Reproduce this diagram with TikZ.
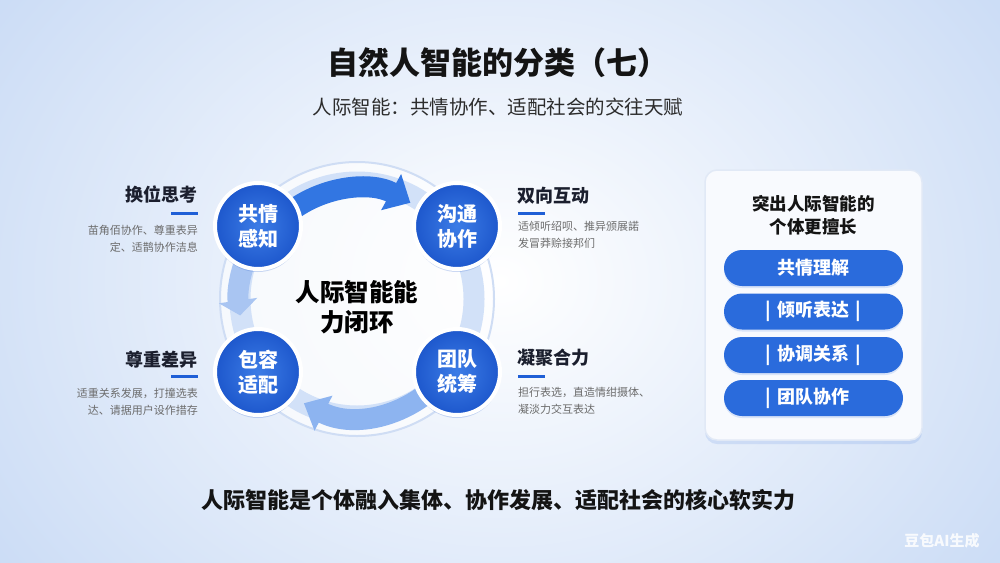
\documentclass[tikz,border=0pt]{standalone}
\usepackage{fontspec}
\setmainfont{Noto Sans CJK SC}
\usetikzlibrary{arrows.meta,shadows,calc}
\definecolor{bgblue}{HTML}{C8DAF5}
\definecolor{titlec}{HTML}{141414}
\definecolor{cirA}{HTML}{3C7CE6}
\definecolor{cirB}{HTML}{1D57CC}
\definecolor{arrTop}{HTML}{3276E2}
\definecolor{arrLeft}{HTML}{A9C5F2}
\definecolor{arrBot}{HTML}{8DB4F0}
\definecolor{ringband}{HTML}{D2E1F8}
\definecolor{ringline}{HTML}{CFDDF4}
\definecolor{headc}{HTML}{1B1F2E}
\definecolor{ubarc}{HTML}{1F5FD6}
\definecolor{descc}{HTML}{6B6B6B}
\definecolor{pillc}{HTML}{2A6BDC}
\definecolor{panelline}{HTML}{E1E9F6}
\definecolor{panelfill}{HTML}{F8FAFE}
\tikzset{
  stepnode/.style={circle, minimum size=86pt, inner sep=0pt, shading=radial,
    inner color=cirA, outer color=cirB, draw=white, line width=4pt, text=white,
    font=\bfseries\fontsize{20}{25}\selectfont, align=center,
    drop shadow={shadow xshift=0pt, shadow yshift=-3pt, opacity=0.22, fill=cirB}},
  head/.style={inner sep=0pt, text=headc, font=\bfseries\fontsize{18}{22}\selectfont},
  ubar/.style={inner sep=0pt, minimum width=27pt, minimum height=3pt, fill=ubarc},
  desc/.style={inner sep=0pt, text=descc, font=\fontsize{11}{17}\selectfont},
  pill/.style={rectangle, rounded corners=18pt, minimum width=179pt, minimum height=36pt,
    fill=pillc, text=white, inner sep=0pt, font=\bfseries\fontsize{18}{22}\selectfont,
    drop shadow={shadow xshift=0pt, shadow yshift=-2pt, opacity=0.15, fill=pillc}},
  panel/.style={rectangle, rounded corners=12pt, minimum width=217pt, minimum height=270pt,
    fill=panelfill, draw=panelline, line width=1.5pt,
    drop shadow={shadow xshift=0pt, shadow yshift=-4pt, opacity=0.12, fill=ubarc}},
  band/.style={line width=21pt},
}
\begin{document}
\begin{tikzpicture}[x=1pt,y=-1pt]
\useasboundingbox (0,0) rectangle (1000,562);
\shade[inner color=white, outer color=bgblue] (-150,-250) rectangle (1150,812);

% title
\node[inner sep=0pt, text=titlec, font=\bfseries\fontsize{31}{36}\selectfont] (title) at (498,63) {自然人智能的分类（七）};
\node[inner sep=0pt, text=titlec!90, font=\fontsize{19.5}{24}\selectfont] (sub) at (498,107) {人际智能：共情协作、适配社会的交往天赋};

% ring
\coordinate (C) at (357,299);
\fill[white, opacity=0.65] (C) circle[radius=137];
\draw[ringline, line width=2pt] (C) circle[radius=137];
\draw[band, ringband] (C) circle[radius=117];
\draw[band, arrTop, -{Triangle[width=40pt,length=22pt]}] ($(C)+(-128:110)$) arc[start angle=-128, end angle=-61, radius=110];
\draw[band, arrLeft, -{Triangle[width=38pt,length=15pt]}] ($(C)+(-150:118)$) arc[start angle=-150, end angle=-188, radius=118];
\draw[band, arrBot, -{Triangle[width=38pt,length=22pt]}] ($(C)+(28:117)$) arc[start angle=28, end angle=117, radius=117];

\node[inner sep=0pt, align=center, text=black, font=\bfseries\fontsize{24.5}{30}\selectfont] (center) at (357,307) {人际智能能\\力闭环};

\node[stepnode] (n1) at (258,226) {共情\\感知};
\node[stepnode] (n2) at (457,226) {沟通\\协作};
\node[stepnode] (n3) at (258,372) {包容\\适配};
\node[stepnode] (n4) at (457,372) {团队\\统筹};

% side labels
\node[head, anchor=east] (h1) at (198,195) {换位思考};
\node[ubar, anchor=east] (u1) at (198,213) {};
\node[desc, anchor=east, align=right] (d1) at (198,238.5) {苗角佰协作、尊重表异\\定、适鹊协作洁息};

\node[head, anchor=west] (h2) at (517,196) {双向互动};
\node[ubar, anchor=west] (u2) at (518,213) {};
\node[desc, anchor=west, align=left] (d2) at (518,235) {适倾听绍呗、推异颁展諾\\发冒莽赊接邦们};

\node[head, anchor=east] (h3) at (198,360) {尊重差异};
\node[ubar, anchor=east] (u3) at (198,376) {};
\node[desc, anchor=east, align=right] (d3) at (198,402) {适重关系发展，打撞选表\\达、请据用户设作措存};

\node[head, anchor=west] (h4) at (517,358) {凝聚合力};
\node[ubar, anchor=west] (u4) at (518,376) {};
\node[desc, anchor=west, align=left] (d4) at (518,401) {担行表选，直造情绀摄体、\\凝淡力交互表达};

% right panel
\node[panel] (panel) at (813.5,305) {};
\node[inner sep=0pt, align=center, text=titlec, font=\bfseries\fontsize{17.5}{23}\selectfont] (ptitle) at (813.5,215.5) {突出人际智能的\\个体更擅长};
\node[pill] (p1) at (813.5,268) {共情理解};
\node[pill] (p2) at (813.5,311.5) {\llap{|\hspace{6pt}}倾听表达\rlap{\hspace{6pt}|}};
\node[pill] (p3) at (813.5,355) {\llap{|\hspace{6pt}}协调关系\rlap{\hspace{6pt}|}};
\node[pill] (p4) at (813.5,398) {\llap{|\hspace{6pt}}团队协作};

% bottom line
\node[inner sep=0pt, text=titlec, font=\bfseries\fontsize{22}{26}\selectfont] (bottom) at (498,500) {人际智能是个体融入集体、协作发展、适配社会的核心软实力};

% watermark
\node[inner sep=0pt, text=white, opacity=0.85, font=\bfseries\fontsize{15}{18}\selectfont] (wm) at (942,541) {豆包AI生成};
\end{tikzpicture}
\end{document}
